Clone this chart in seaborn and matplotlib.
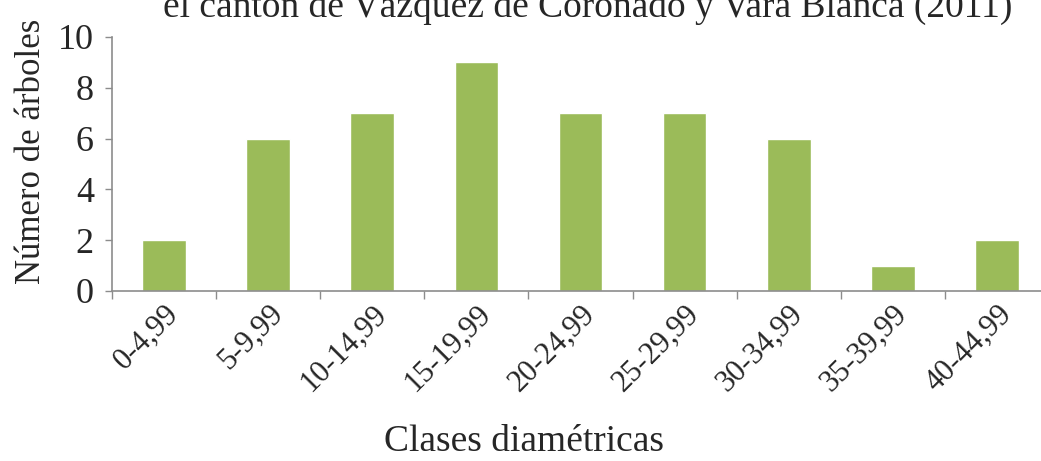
#importing libraries
import pandas as pd
import seaborn as sb
import matplotlib.pyplot as plt

#data
clases = ['0-4,99', '5-9,99', '10-14,99', '15-19,99', '20-24,99',
          '25-29,99', '30-34,99', '35-39,99', '40-44,99']
arboles = [2, 6, 7, 9, 7, 7, 6, 1, 2]
yticks = [0, 2, 4, 6, 8, 10]

df = pd.DataFrame({'clase': clases, 'arboles': arboles})

sb.set_style('white')
plt.rcParams['font.family'] = ['Liberation Serif', 'DejaVu Serif']

fig = plt.figure(figsize=(10.41, 4.61), dpi=100)
ax = fig.add_axes([0.1076, 0.3688, 0.9, 0.551])

sb.barplot(x='clase', y='arboles', data=df, color='#9BBB59', saturation=1,
           width=0.42, ax=ax)

ax.set_xlim(-0.5, 8.5)
ax.set_ylim(0, 10)
ax.set_yticks(yticks)
ax.set_yticklabels([str(t) for t in yticks], fontsize=26)
ax.tick_params(axis='y', length=5, width=1, color='#8c8c8c', left=True, pad=8)

#ticks between the classes, labels under the bars
ax.set_xticks(range(len(clases)))
ax.set_xticklabels(clases, rotation=45, ha='right', va='top',
                   rotation_mode='anchor', fontsize=22)
ax.tick_params(axis='x', which='major', length=0, pad=6)
ax.set_xticks([i - 0.5 for i in range(len(clases) + 1)], minor=True)
ax.tick_params(axis='x', which='minor', length=6, width=1, color='#8c8c8c', bottom=True)

for s in ['top', 'right']:
    ax.spines[s].set_visible(False)
for s in ['left', 'bottom']:
    ax.spines[s].set_color('#8c8c8c')
    ax.spines[s].set_linewidth(1.2)

ax.set_xlabel('Clases diamétricas', fontsize=27)
ax.xaxis.set_label_coords(0.44, -0.525)
ax.set_ylabel('Número de árboles', fontsize=25)
ax.yaxis.set_label_coords(-0.068, 0.55)

fig.text(0.565, 1 - 17 / 461, 'el cantón de Vázquez de Coronado y Vara Blanca (2011)',
         ha='center', va='baseline', fontsize=27)

plt.savefig('out.png', dpi=100)
